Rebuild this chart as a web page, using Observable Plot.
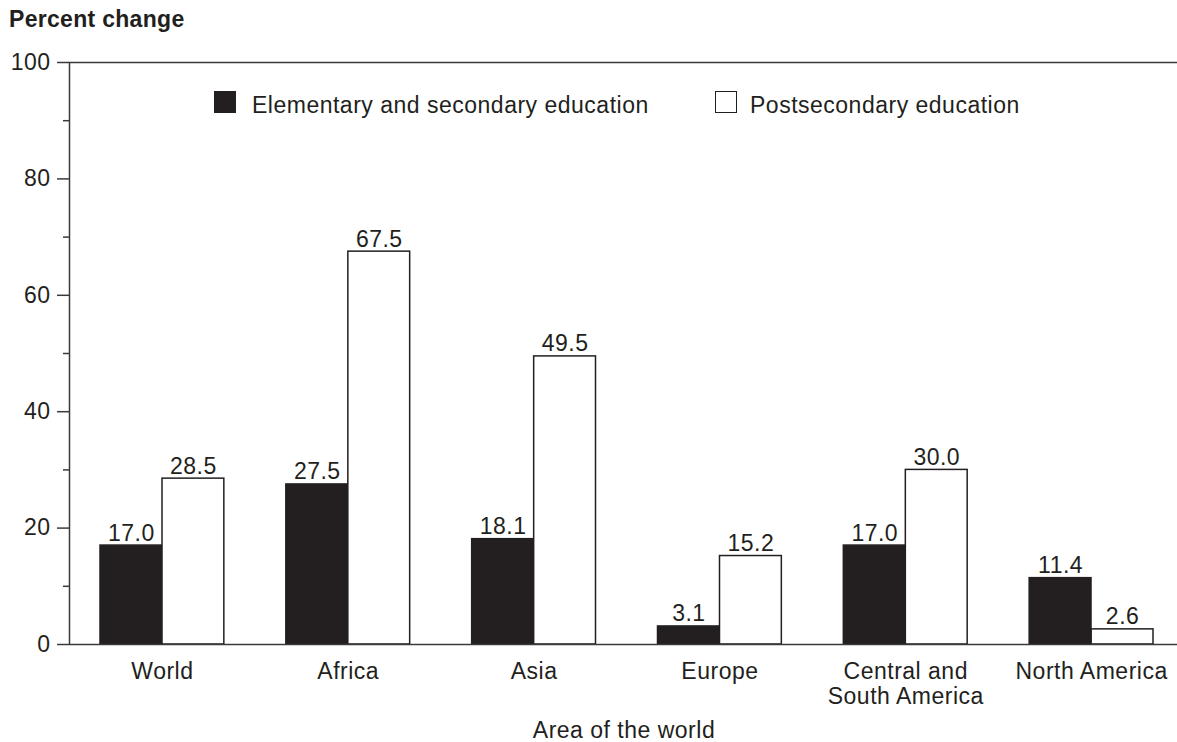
<!DOCTYPE html>
<html><head><meta charset="utf-8">
<script src="https://cdn.jsdelivr.net/npm/d3@7"></script>
<script src="https://cdn.jsdelivr.net/npm/@observablehq/plot@0.6"></script>
<style>
body{margin:0;background:#fff;font-family:"Liberation Sans",Arial,Helvetica,sans-serif;color:#231f20}
#wrap{position:relative;width:1177px;height:742px;overflow:hidden}
#chart{position:absolute;left:0;top:0;width:1184px}
#chart svg{max-width:none !important;width:1184px;height:742px}
#chart svg text{letter-spacing:0.5px}
.ov{position:absolute;white-space:nowrap;font-size:23px;line-height:23px;letter-spacing:0.5px}
#title{left:9px;top:8px;font-size:23px;line-height:23px;font-weight:bold;letter-spacing:0.3px}
.sw{position:absolute;width:22px;height:22px;box-sizing:border-box;border:1.5px solid #231f20}
#xlabel{left:424px;width:400px;text-align:center;top:719px}
</style></head><body>
<div id="wrap">
  <div id="chart"></div>
  <div id="title" class="ov">Percent change</div>
  <div class="sw" style="left:214px;top:91px;background:#231f20"></div>
  <div id="lg1" class="ov" style="left:252px;top:94px"></div>
  <div class="sw" style="left:715px;top:91px;background:#fff"></div>
  <div id="lg2" class="ov" style="left:750px;top:94px"></div>
  <div id="xlabel" class="ov">Area of the world</div>
</div>
<script>
const areas = ["World", "Africa", "Asia", "Europe", "Central and\nSouth America", "North America"];
const series = ["Elementary and secondary education", "Postsecondary education"];
const elementary = [17.0, 27.5, 18.1, 3.1, 17.0, 11.4];
const postsecondary = [28.5, 67.5, 49.5, 15.2, 30.0, 2.6];
const majorTicks = [0, 20, 40, 60, 80, 100];
const minorTicks = [10, 30, 50, 70, 90];
const yDomain = [0, 100];

document.getElementById("lg1").textContent = series[0];
document.getElementById("lg2").textContent = series[1];

const elemData = areas.map((a, i) => ({area: a, series: series[0], value: elementary[i]}));
const postData = areas.map((a, i) => ({area: a, series: series[1], value: postsecondary[i]}));
const ink = "#231f20";
const line = "#3a3a3a";
const fmt = d => d.value.toFixed(1);

const chart = Plot.plot({
  width: 1184, height: 742,
  marginTop: 62, marginBottom: 98, marginLeft: 69, marginRight: 0,
  style: {fontFamily: '"Liberation Sans", Arial, Helvetica, sans-serif', fontSize: "23px", color: ink, background: "transparent", overflow: "visible"},
  x: {domain: areas, padding: 0, round: false, label: null},
  y: {domain: yDomain, label: null},
  marks: [
    Plot.barY(elemData, {x: "area", y: "value", fill: ink, stroke: ink, strokeWidth: 1.5, insetLeft: 31, insetRight: 93}),
    Plot.barY(postData, {x: "area", y: "value", fill: "#ffffff", stroke: ink, strokeWidth: 1.5, insetLeft: 93, insetRight: 31}),
    Plot.frame({stroke: line, strokeWidth: 1.5}),
    Plot.text(elemData, {x: "area", y: "value", text: fmt, lineAnchor: "bottom", dy: -5, dx: -31, fill: ink, fontSize: 23}),
    Plot.text(postData, {x: "area", y: "value", text: fmt, lineAnchor: "bottom", dy: -5, dx: 31, fill: ink, fontSize: 23}),
    Plot.axisY({ticks: majorTicks, tickSize: 12, tickPadding: 7, tickFormat: d => String(d), label: null, stroke: line, strokeWidth: 1.5, fill: ink, fontSize: 23}),
    Plot.axisY({ticks: minorTicks, tickSize: 6, tickFormat: () => "", label: null, stroke: line, strokeWidth: 1.5}),
    Plot.axisX({tickSize: 0, tickPadding: 17, lineHeight: 1.09, label: null, fill: ink, fontSize: 23})
  ]
});
document.getElementById("chart").appendChild(chart);
</script>
</body></html>
